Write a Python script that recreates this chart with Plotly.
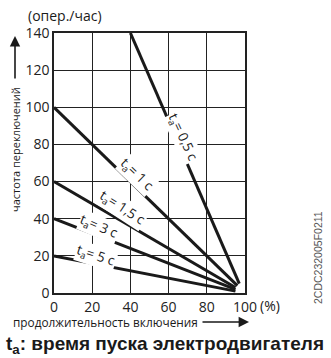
import plotly.graph_objects as go

# ---- data ----
labels = ["0,5", "1", "1,5", "3", "5"]
x_start = [40, 0, 0, 0, 0]
y_start = [140, 100, 60, 40, 20]
x_end = [97, 96, 95, 95, 95]
y_end = [5, 4, 3, 2, 1]

x_ticks = [0, 20, 40, 60, 80, 100]
y_ticks = [0, 20, 40, 60, 80, 100, 120, 140]

# label placement (data coords) and angles
lab_x = [67.5, 43.4, 35.6, 23.6, 22]
lab_y = [83.5, 63.5, 45.8, 35.5, 19.9]
lab_ang = [65, 44, 33, 23, 18]

FONT = "Open Sans"
INK = "#1a1a1a"

fig = go.Figure()
for i in range(len(labels)):
    fig.add_trace(go.Scatter(
        x=[x_start[i], x_end[i]], y=[y_start[i], y_end[i]],
        mode="lines", line=dict(color=INK, width=3), showlegend=False,
        hoverinfo="skip"))

W, H = 331, 358
L, R, T, B = 54, 86, 33, 65
pw, ph = W - L - R, H - T - B


def px(xp):
    return (xp - L) / pw


def py(yp):
    return (H - B - yp) / ph


def pann(xp, yp, text, **kw):
    d = dict(x=px(xp), y=py(yp), xref="paper", yref="paper", showarrow=False,
             xanchor="center", yanchor="middle", text=text)
    d.update(kw)
    return d


ann = []
for i in range(len(labels)):
    ann.append(dict(
        x=lab_x[i], y=lab_y[i], xref="x", yref="y", showarrow=False,
        xanchor="center", yanchor="middle",
        text="t<sub>a</sub>= " + labels[i] + " c", textangle=lab_ang[i],
        font=dict(family=FONT, size=13.5, color=INK),
        bgcolor="white", borderpad=0))

ann += [
    pann(65, 15, "(опер./час)", font=dict(family=FONT, size=14, color=INK)),
    pann(15, 150, "частота переключений", textangle=-90,
         font=dict(family=FONT, size=11, color=INK)),
    dict(x=px(15), y=py(36), xref="paper", yref="paper", ax=0, ay=44,
         showarrow=True, arrowhead=2, arrowsize=1.3, arrowwidth=1.6,
         arrowcolor=INK, text=""),
    pann(105, 322, "продолжительность включения",
         font=dict(family=FONT, size=11.8, color=INK)),
    dict(x=px(249), y=py(322), xref="paper", yref="paper", ax=-48, ay=0,
         showarrow=True, arrowhead=2, arrowsize=1.3, arrowwidth=1.6,
         arrowcolor=INK, text=""),
    pann(258, 305, "(%)", xanchor="left",
         font=dict(family=FONT, size=14, color=INK)),
    pann(318, 258, "2CDC232005F0211", textangle=-90,
         font=dict(family="Liberation Sans", size=10.5, color="#555")),
    pann(165, 345, "t<sub>a</sub>: время пуска электродвигателя",
         font=dict(family="Liberation Sans", size=19, color=INK, weight="bold")),
]

axis_common = dict(showgrid=True, gridcolor="#222", gridwidth=1.2,
                   showline=True, linecolor="#222", linewidth=1.5, mirror=True,
                   zeroline=False, ticks="", fixedrange=True,
                   tickfont=dict(family=FONT, size=14, color="#222"))

fig.update_layout(
    width=W, height=H, margin=dict(l=L, r=R, t=T, b=B),
    paper_bgcolor="white", plot_bgcolor="white",
    xaxis=dict(range=[0, 100], tickvals=x_ticks, **axis_common),
    yaxis=dict(range=[0, 140], tickvals=y_ticks, **axis_common),
    annotations=ann,
)

fig.write_html("out.html", config={"displayModeBar": False},
               post_script="document.body.style.margin='0';")
